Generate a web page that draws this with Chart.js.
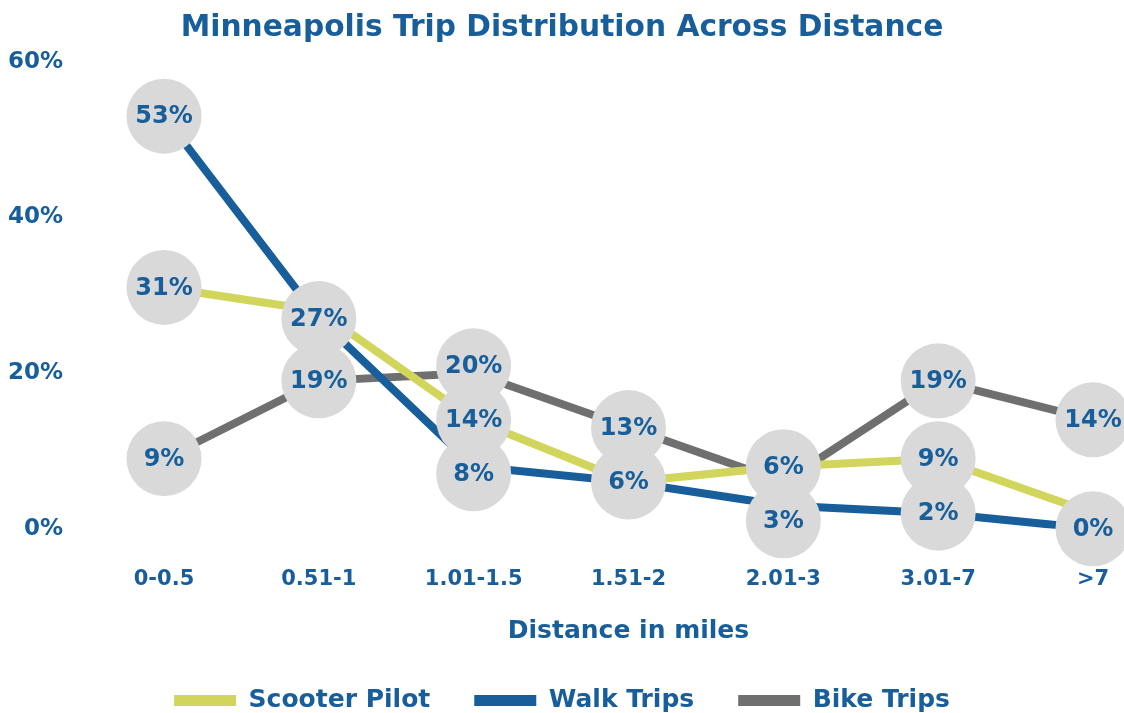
<!DOCTYPE html>
<html>
<head>
<meta charset="utf-8">
<script src="https://cdn.jsdelivr.net/npm/chart.js@4.4.0/dist/chart.umd.min.js"></script>
<style>
html, body { margin: 0; padding: 0; background: #ffffff; }
#wrap { width: 1124px; height: 713px; }
</style>
</head>
<body>
<div id="wrap"><canvas id="c" width="1124" height="713"></canvas></div>
<script>
// ---- data ----
const categories = ['0-0.5', '0.51-1', '1.01-1.5', '1.51-2', '2.01-3', '3.01-7', '>7'];
const scooterPilot = [31, 28, 14, 6, 8, 9, 2];
const walkTrips = [53, 27, 8, 6, 3, 2, 0];
const bikeTrips = [9, 19, 20, 13, 6, 19, 14];
const yTicks = [0, 20, 40, 60];
const seriesNames = ['Scooter Pilot', 'Walk Trips', 'Bike Trips'];
// labels that sit hidden under a coincident label in the original
const hiddenLabels = { 'Scooter Pilot': [1, 3, 4, 6] };

// ---- style ----
const BLUE = '#175E9B';
const YELLOW = '#D1D55B';
const GRAY = '#6F6F6F';
const BUBBLE = '#D9D9D9';
const FONT = '"DejaVu Sans", sans-serif';

const bubbleLabels = {
  id: 'bubbleLabels',
  afterDatasetsDraw(chart) {
    const { ctx, scales: { x, y } } = chart;
    const R = 37.5, GAP = 54;
    categories.forEach((cat, i) => {
      const items = [];
      chart.data.datasets.forEach((ds) => {
        const hid = hiddenLabels[ds.label] || [];
        if (hid.includes(i)) return;
        const v = ds.data[i];
        items.push({ v, py: y.getPixelForValue(v) });
      });
      items.sort((a, b) => a.py - b.py);
      let groups = items.map(it => ({ members: [it], center: it.py }));
      let merged = true;
      while (merged) {
        merged = false;
        for (let k = 0; k < groups.length - 1; k++) {
          const a = groups[k], b = groups[k + 1];
          const aBottom = a.center + (a.members.length - 1) * GAP / 2;
          const bTop = b.center - (b.members.length - 1) * GAP / 2;
          if (bTop - aBottom < GAP) {
            const members = a.members.concat(b.members);
            const center = members.reduce((s, m) => s + m.py, 0) / members.length;
            groups.splice(k, 2, { members, center });
            merged = true;
            break;
          }
        }
      }
      groups.forEach(g => g.members.forEach((m, j) => {
        m.ly = g.center + (j - (g.members.length - 1) / 2) * GAP;
      }));
      const px = x.getPixelForValue(i);
      ctx.save();
      items.forEach(m => {
        ctx.beginPath();
        ctx.arc(px, m.ly, R, 0, Math.PI * 2);
        ctx.fillStyle = BUBBLE;
        ctx.fill();
      });
      ctx.fillStyle = BLUE;
      ctx.font = 'bold 24px ' + FONT;
      ctx.textAlign = 'center';
      ctx.textBaseline = 'middle';
      items.forEach(m => {
        ctx.fillText(Math.round(m.v) + '%', px, m.ly + 1);
      });
      ctx.restore();
    });
  }
};

const seriesData = [scooterPilot, walkTrips, bikeTrips];
const seriesColors = [YELLOW, BLUE, GRAY];
const X_TICK_PAD = 38;

new Chart(document.getElementById('c'), {
  type: 'line',
  data: {
    labels: categories,
    datasets: seriesNames.map((name, k) => ({
      label: name,
      data: seriesData[k],
      borderColor: seriesColors[k],
      backgroundColor: seriesColors[k],
      borderWidth: 8,
      pointRadius: 0,
      tension: 0,
      fill: false
    }))
  },
  options: {
    responsive: false,
    animation: false,
    devicePixelRatio: 1,
    layout: { padding: { left: 0, right: 0, top: 0, bottom: -10 } },
    plugins: {
      title: {
        display: true,
        text: 'Minneapolis Trip Distribution Across Distance',
        color: BLUE,
        font: { family: FONT, size: 29.7, weight: 'bold' },
        padding: { top: 10, bottom: 16 }
      },
      legend: {
        position: 'bottom',
        labels: {
          color: BLUE,
          font: { family: FONT, size: 25, weight: 'bold' },
          boxWidth: 62,
          boxHeight: 11,
          padding: 44,
          generateLabels: (chart) =>
            Chart.defaults.plugins.legend.labels.generateLabels(chart).map(l => ({
              ...l, fillStyle: l.strokeStyle, lineWidth: 0
            }))
        }
      },
      tooltip: { enabled: false }
    },
    scales: {
      x: {
        offset: false,
        afterFit: (s) => { s.paddingRight = 31; s.paddingLeft = 0; s.height -= X_TICK_PAD + 1; },
        grid: { display: false, drawTicks: false },
        border: { display: false },
        ticks: {
          color: BLUE,
          font: { family: FONT, size: 21, weight: 'bold' },
          padding: X_TICK_PAD,
          maxRotation: 0,
          autoSkip: false
        },
        title: {
          display: true,
          text: 'Distance in miles',
          color: BLUE,
          font: { family: FONT, size: 25, weight: 'bold' },
          padding: { top: 25, bottom: -2 }
        }
      },
      y: {
        min: 0,
        max: 60,
        afterBuildTicks: (s) => { s.ticks = yTicks.map(v => ({ value: v })); },
        afterFit: (s) => { s.width = 164; s.paddingTop = 10; s.paddingBottom = 10; },
        grid: { display: false, drawTicks: false },
        border: { display: false },
        ticks: {
          color: BLUE,
          font: { family: FONT, size: 23, weight: 'bold' },
          padding: 101,
          callback: (v) => v + '%'
        }
      }
    }
  },
  plugins: [bubbleLabels]
});
</script>
</body>
</html>
